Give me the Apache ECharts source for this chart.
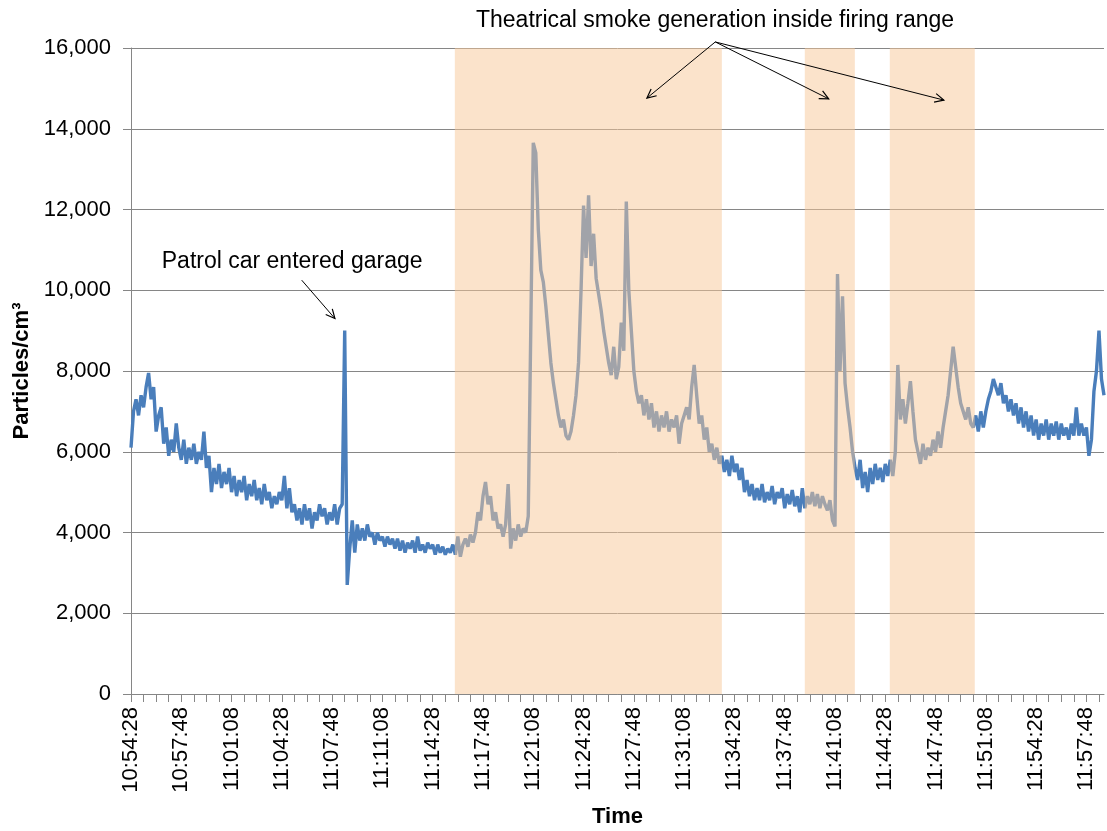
<!DOCTYPE html>
<html>
<head>
<meta charset="utf-8">
<script src="https://cdn.jsdelivr.net/npm/echarts@6/dist/echarts.min.js"></script>
<style>
html,body{margin:0;padding:0;background:#fff;}
#chart{width:1107px;height:831px;}
</style>
</head>
<body>
<div id="chart"></div>
<script>
// ---- data ----
const startTime = '10:54:28';
const stepSeconds = 10;
const endTime = '11:58:58';
const particles = [
6100,7000,7300,6900,7400,7100,7600,7950,7300,7600,
6500,6900,7100,6200,6600,5900,6300,6000,6700,6100,
5800,6300,5700,6100,5800,6200,5700,6000,5800,6500,
5600,5900,5000,5600,5200,5700,5100,5500,5200,5600,
5000,5400,4900,5300,5000,5400,4800,5200,4900,5300,
4800,5100,4700,5200,4800,5000,4600,4900,4700,5000,
4800,5400,4600,5100,4500,4700,4300,4600,4200,4700,
4300,4600,4100,4500,4300,4700,4400,4600,4200,4500,
4300,4700,4200,4600,4700,9000,2700,3600,4300,3500,
4200,3800,4100,3800,4200,3900,4000,3700,4000,3800,
3900,3650,3900,3700,3850,3600,3850,3550,3800,3500,
3750,3600,3800,3500,3900,3550,3700,3500,3750,3600,
3700,3450,3700,3500,3650,3450,3600,3500,3700,3450,
3900,3400,3700,3850,3650,3950,3750,4000,4500,4300,
4900,5250,4700,4900,4300,4500,4100,4200,3900,4200,
5200,3600,4100,3800,4200,3900,4100,4000,4400,9000,
13650,13400,11500,10500,10200,9600,8900,8200,7700,7300,
6900,6600,6800,6400,6300,6500,6900,7400,8200,10000,
12100,10800,12350,10600,11400,10300,9900,9500,9000,8600,
8200,7900,8600,7800,8100,9200,8500,12200,10000,9000,
8000,7500,7200,7400,6900,7300,6800,7200,6600,7000,
6500,6900,6600,7000,6500,6800,6600,6900,6200,6700,
6900,7100,6800,7600,8150,7400,6700,6900,6300,6600,
6000,6200,5800,6100,5700,5900,5500,5800,5400,5900,
5500,5700,5300,5600,5000,5300,4900,5200,4800,5100,
4800,5200,4750,5000,4800,5150,4700,5000,4850,5100,
4600,4950,4700,5050,4650,4900,4500,5100,4600,4900,
4700,5000,4650,4950,4600,4900,4700,4550,4800,4300,
4150,10400,8000,9850,7700,7100,6600,6000,5600,5300,
5800,5100,5500,5000,5600,5200,5700,5300,5600,5250,
5700,5400,5800,5400,6000,8150,6800,7300,6700,7200,
7750,7000,6300,6000,5700,6200,5800,6100,5900,6300,
6000,6500,6100,6600,7000,7400,8000,8600,8100,7600,
7200,7000,6800,7100,6700,6600,6900,6500,7000,6600,
7000,7300,7500,7800,7600,7400,7700,7200,7400,7000,
7300,6900,7200,6700,7100,6600,7000,6500,6900,6400,
6800,6300,6700,6400,6800,6300,6700,6400,6750,6300,
6700,6400,6600,6300,6700,6400,7100,6400,6700,6400,
6600,5900,6300,7500,8000,9000,7800,7400
];
const shadedRanges = [
  ['11:15:56', '11:33:38'],
  ['11:39:08', '11:42:27'],
  ['11:44:46', '11:50:24']
];
const xTickLabels = ['10:54:28','10:57:48','11:01:08','11:04:28','11:07:48','11:11:08','11:14:28',
  '11:17:48','11:21:08','11:24:28','11:27:48','11:31:08','11:34:28','11:37:48','11:41:08',
  '11:44:28','11:47:48','11:51:08','11:54:28','11:57:48'];
const yTickLabels = ['0','2,000','4,000','6,000','8,000','10,000','12,000','14,000','16,000'];
const patrolNote = 'Patrol car entered garage';
const smokeNote = 'Theatrical smoke generation inside firing range';
// annotation anchors as [time, value]
const patrolNoteAt = ['11:05:09', 10700];
const smokeNoteAt = ['11:33:11', 16670];
const patrolArrow = [['11:05:47', 10250], ['11:07:59', 9300]];
const smokeArrowStart = ['11:33:12', 16150];
const smokeArrowEnds = [['11:28:40', 14760], ['11:40:43', 14740], ['11:48:21', 14710]];

// ---- helpers ----
function toSec(s){const p=s.split(':').map(Number);return p[0]*3600+p[1]*60+p[2];}
const t0 = toSec(startTime);
const rel = s => toSec(s) - t0;
const lineData = particles.map((v,i)=>[i*stepSeconds, v]);

const FONT = 'Liberation Sans, Arial, sans-serif';

const chart = echarts.init(document.getElementById('chart'), null, {renderer:'canvas'});
chart.setOption({
  animation:false,
  backgroundColor:'#fff',
  grid:{left:131, right:3, top:48, bottom:137, containLabel:false, outerBoundsMode:'none'},
  xAxis:{
    type:'value', min:0, max:rel(endTime), interval:50,
    name:'Time', nameLocation:'middle', nameGap:112,
    nameTextStyle:{fontFamily:FONT, fontSize:22, fontWeight:'bold', color:'#000'},
    axisLine:{show:true, lineStyle:{color:'#868686', width:1}},
    axisTick:{show:true, length:8, lineStyle:{color:'#868686'}},
    splitLine:{show:false},
    axisLabel:{
      rotate:90, margin:13, fontFamily:FONT, fontSize:22, color:'#000',
      showMaxLabel:false,
      formatter:function(v){ if(v%200!==0) return ''; const k=v/200; return xTickLabels[k]||''; }
    }
  },
  yAxis:{
    type:'value', min:0, max:16000, interval:2000,
    name:'Particles/cm³', nameLocation:'middle', nameGap:96,
    nameTextStyle:{fontFamily:FONT, fontSize:22, fontWeight:'bold', color:'#000'},
    axisLine:{show:true, lineStyle:{color:'#868686', width:1}},
    axisTick:{show:true, length:8, lineStyle:{color:'#868686'}},
    splitLine:{show:true, lineStyle:{color:'#868686', width:1}},
    axisLabel:{margin:20, fontFamily:FONT, fontSize:22, color:'#000',
      formatter:function(v){ return yTickLabels[v/2000]; }}
  },
  series:[
    {
      type:'line', data:lineData, showSymbol:false, symbol:'none', z:2,
      lineStyle:{color:'#4A7EBB', width:3.4}, silent:true
    },
    {
      type:'line', data:[], z:3, silent:true,
      markArea:{
        silent:true, z:3,
        itemStyle:{color:'rgba(248,200,152,0.5)'},
        data: shadedRanges.map(r=>[{xAxis:rel(r[0])},{xAxis:rel(r[1])}])
      }
    }
  ]
});

// annotations placed through the chart's own scales
function px(tv){ return chart.convertToPixel({gridIndex:0}, [rel(tv[0]), tv[1]]); }
function arrow(a, b){
  const dx=b[0]-a[0], dy=b[1]-a[1], L=Math.hypot(dx,dy), ux=dx/L, uy=dy/L;
  const h=10, w=0.45;
  const p1=[b[0]-h*(ux*Math.cos(w)-uy*Math.sin(w)), b[1]-h*(uy*Math.cos(w)+ux*Math.sin(w))];
  const p2=[b[0]-h*(ux*Math.cos(-w)-uy*Math.sin(-w)), b[1]-h*(uy*Math.cos(-w)+ux*Math.sin(-w))];
  return [
    {type:'line', z:50, shape:{x1:a[0],y1:a[1],x2:b[0],y2:b[1]}, style:{stroke:'#000', lineWidth:1}},
    {type:'polyline', z:50, shape:{points:[p1,b,p2]}, style:{stroke:'#000', lineWidth:1.2, fill:null}}
  ];
}
let g = [];
g = g.concat(arrow(px(patrolArrow[0]), px(patrolArrow[1])));
const s0 = px(smokeArrowStart);
smokeArrowEnds.forEach(e=>{ g = g.concat(arrow(s0, px(e))); });
const pn = px(patrolNoteAt), sn = px(smokeNoteAt);
g.push({type:'text', z:50, x:pn[0], y:pn[1], style:{text:patrolNote, font:'23px '+FONT, fill:'#000', textAlign:'center', textVerticalAlign:'middle'}});
g.push({type:'text', z:50, x:sn[0], y:sn[1], style:{text:smokeNote, font:'23px '+FONT, fill:'#000', textAlign:'center', textVerticalAlign:'middle'}});
chart.setOption({graphic:g});
</script>
</body>
</html>
